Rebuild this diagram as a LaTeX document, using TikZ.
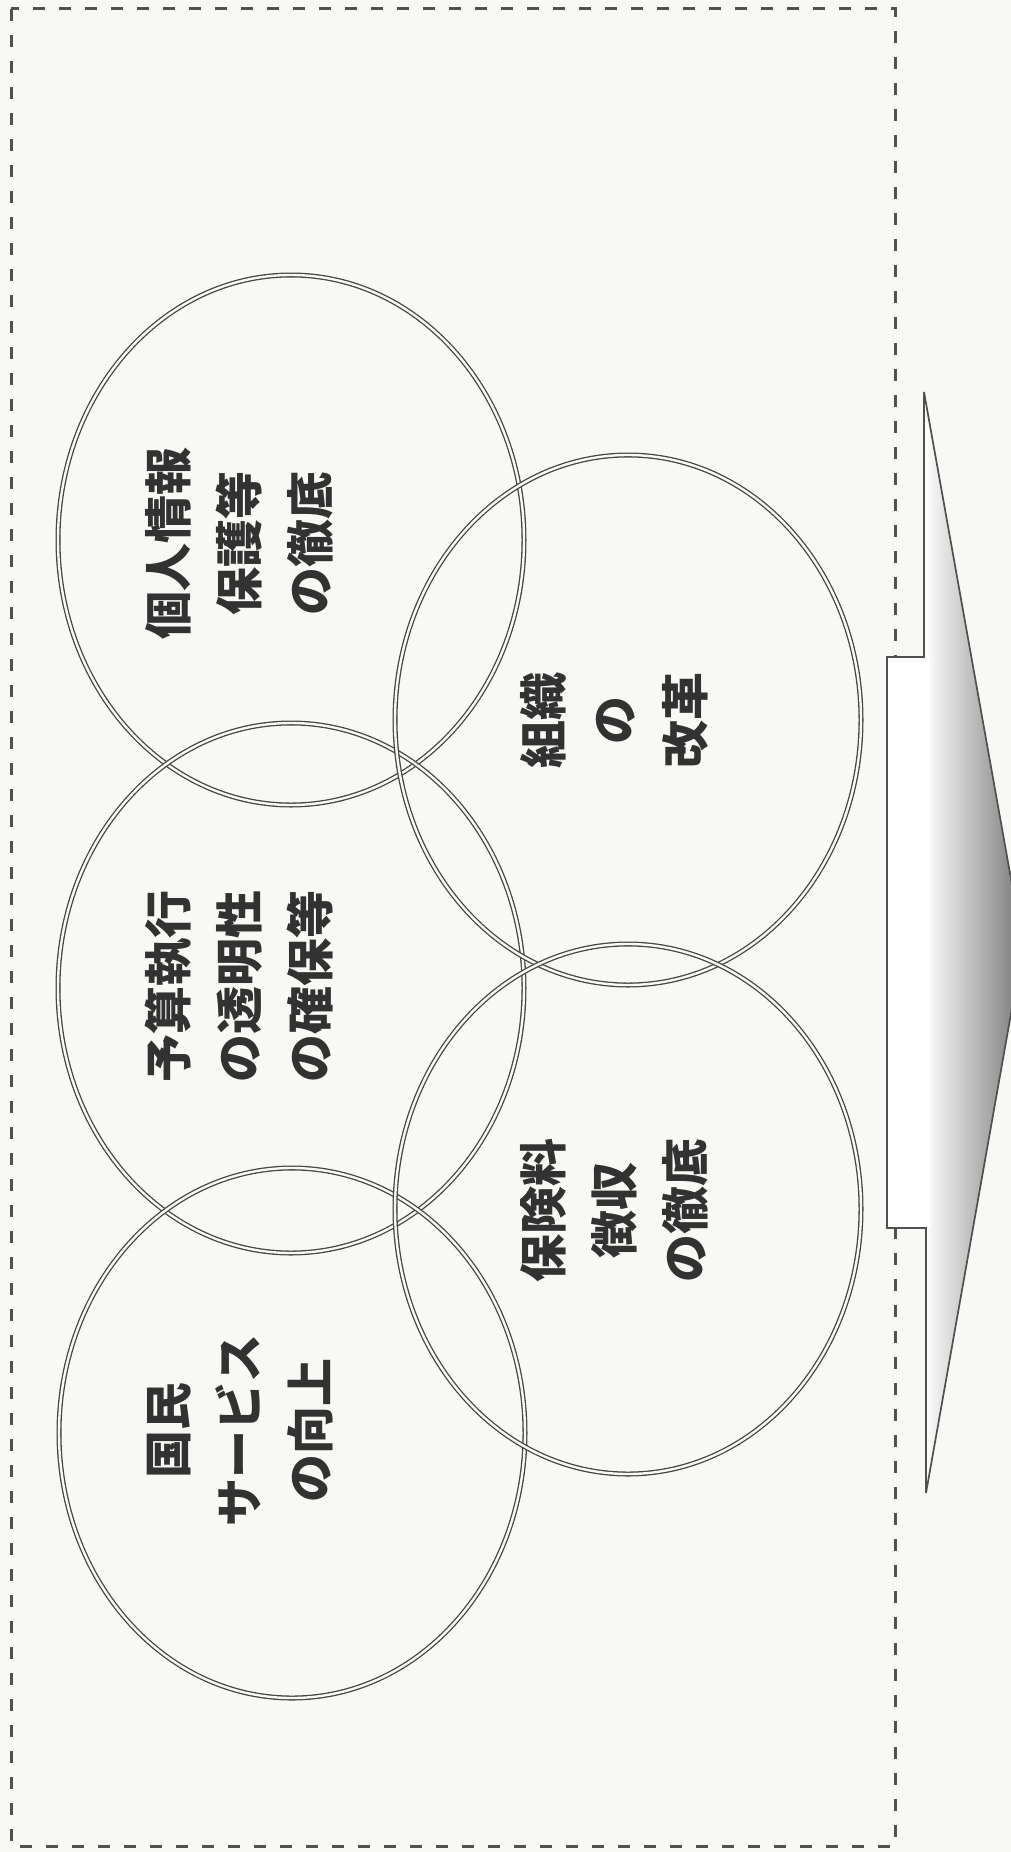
\documentclass[tikz,border=0pt]{standalone}
\usepackage{fontspec}
\newfontfamily\jp{Noto Sans CJK JP}
\usetikzlibrary{shapes.geometric}
\definecolor{bg}{RGB}{248,248,244}
\definecolor{ln}{RGB}{80,80,80}
\definecolor{rl}{RGB}{70,70,70}
\definecolor{tx}{RGB}{50,50,50}
\definecolor{dk}{RGB}{120,120,120}
\tikzset{
  ring/.style={ellipse, draw=rl, double=bg, double distance=2.4pt, line width=1.3pt,
    minimum width=466pt, minimum height=530pt, inner sep=0pt},
  lbl/.style={rotate=90, align=center, text=tx, inner sep=0pt,
    font=\jp\bfseries\fontsize{48}{71}\selectfont},
  frame/.style={draw=ln, line width=3pt, dash pattern=on 12pt off 14pt},
  arrowline/.style={draw=ln, line width=1.7pt, line join=miter}
}
\begin{document}
\begin{tikzpicture}[x=1pt,y=-1pt]
\useasboundingbox (0,0) rectangle (1011,1852);
\clip (0,0) rectangle (1011,1852);
\fill[bg] (0,0) rectangle (1011,1852);
% dashed frame
\draw[frame] (11,9) rectangle (895,1846);
% rings
\node[ring] (r1) at (291,540) {};
\node[ring] (r2) at (291,988) {};
\node[ring] (r3) at (292,1433) {};
\node[ring] (r4) at (628,720) {};
\node[ring] (r5) at (628,1209) {};
% labels
\node[lbl] (t1) at (239,543) {個人情報\\保護等\\の徹底};
\node[lbl] (t2) at (239,986) {予算執行\\の透明性\\の確保等};
\node[lbl] (t3) at (240,1430) {国民\\サービス\\の向上};
\node[lbl] (t4) at (614,720) {組織\\の\\改革};
\node[lbl] (t5) at (614,1210) {保険料\\徴収\\の徹底};
% block arrow
\coordinate (a1) at (924,392);
\coordinate (a2) at (1023,946);
\coordinate (a3) at (926,1493);
\coordinate (a4) at (926,1228);
\coordinate (a5) at (887,1228);
\coordinate (a6) at (887,657);
\coordinate (a7) at (924,657);
\fill[white] (a5) rectangle (a7);
\shade[left color=white, right color=dk] (a1) -- (a2) -- (a3) -- cycle;
\fill[white] (924,657) rectangle (930,1228);
\draw[arrowline] (a1) -- (a2) -- (a3) -- (a4) -- (a5) -- (a6) -- (a7) -- cycle;
\end{tikzpicture}
\end{document}
